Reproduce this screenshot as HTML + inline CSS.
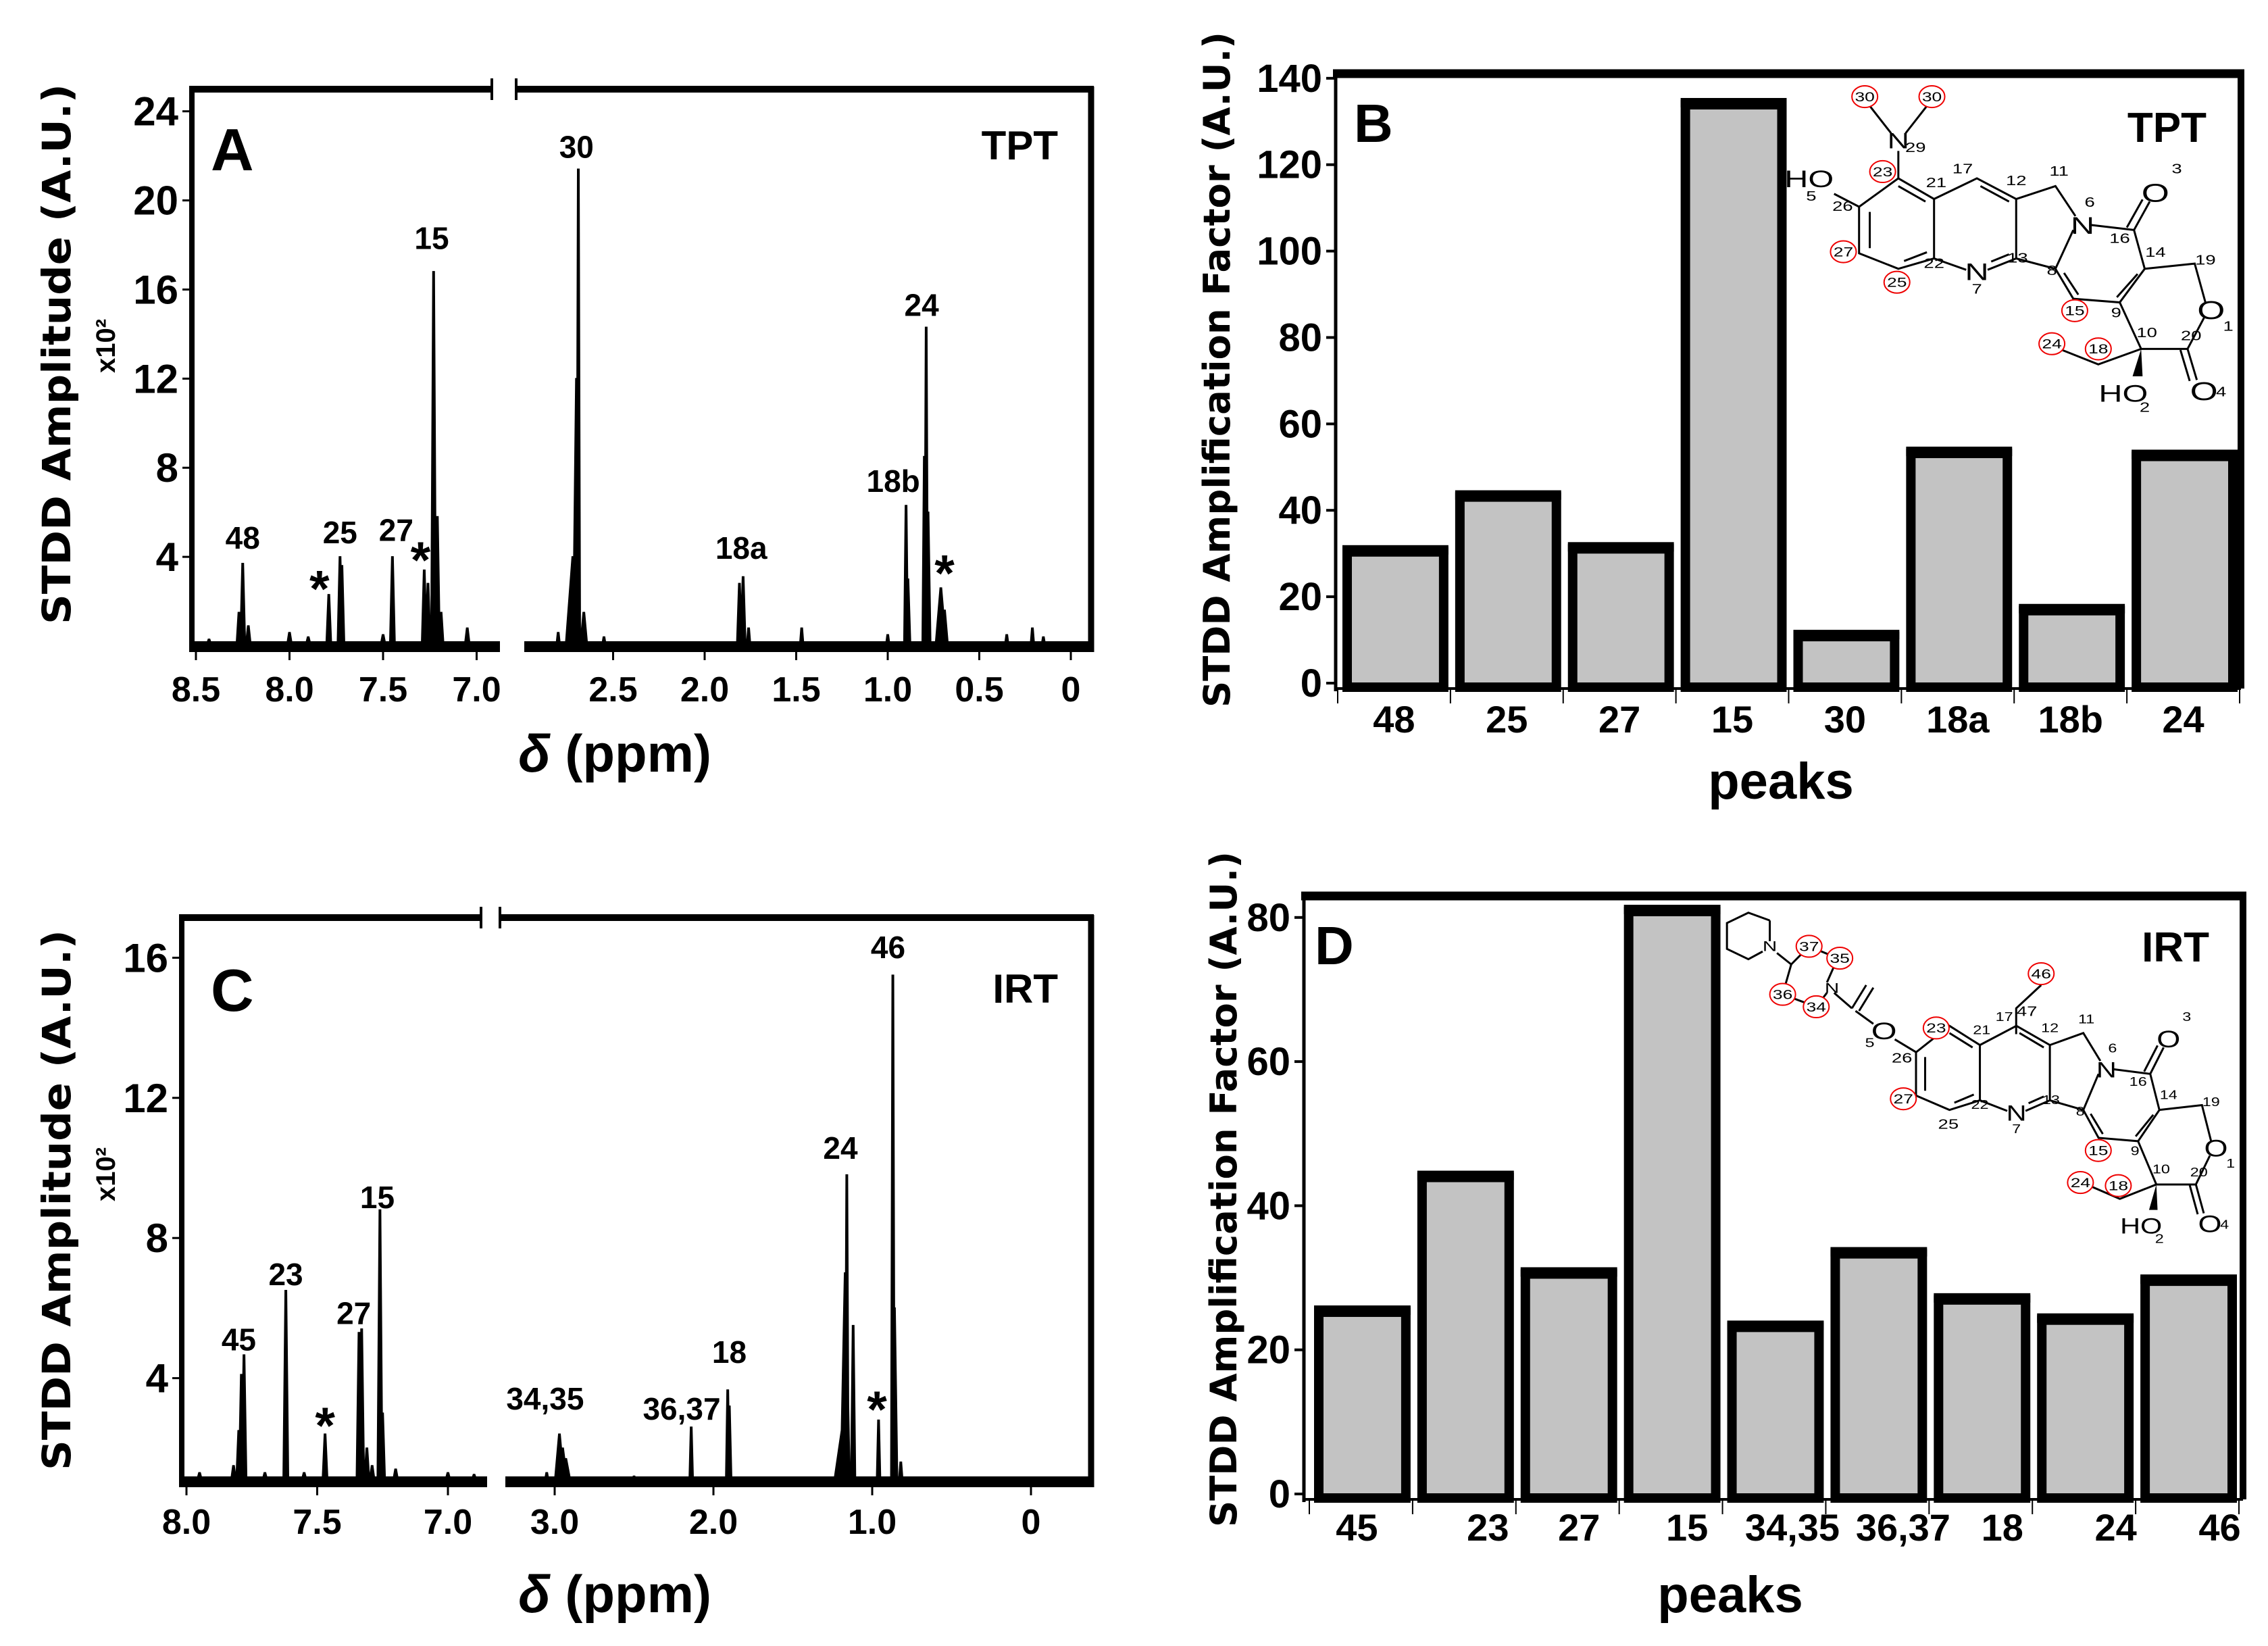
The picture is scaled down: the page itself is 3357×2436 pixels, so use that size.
<!DOCTYPE html>
<html><head><meta charset="utf-8"><style>
html,body{margin:0;padding:0;background:#fff;}
svg{display:block;}
.n{font-family:"Liberation Sans Narrow","Liberation Sans",sans-serif;font-weight:bold;fill:#000;}
.w{font-family:"DejaVu Sans","Liberation Sans",sans-serif;font-weight:bold;fill:#000;}
.m{font-family:"Liberation Sans",sans-serif;fill:#000;}
</style></head><body>
<svg id="fig" width="3357" height="2436" viewBox="0 0 3357 2436" xmlns="http://www.w3.org/2000/svg">
<rect width="3357" height="2436" fill="#fff"/>
<g>
 <text class="w" transform="translate(104,524) rotate(-90)" text-anchor="middle" font-size="58" textLength="800" lengthAdjust="spacingAndGlyphs">STDD Amplitude (A.U.)</text>
 <text class="n" transform="translate(170,512) rotate(-90)" text-anchor="middle" font-size="40">x10²</text>
 <text class="n" x="312" y="252" font-size="88">A</text>
 <text class="n" x="1566" y="236" text-anchor="end" font-size="60">TPT</text>
 <text class="n" x="910" y="1142" text-anchor="middle" font-size="78"><tspan font-style="italic">δ</tspan> (ppm)</text>
</g>
<g>
 <text class="w" transform="translate(1820,547) rotate(-90)" text-anchor="middle" font-size="54" textLength="1000" lengthAdjust="spacingAndGlyphs">STDD Amplification Factor (A.U.)</text>
 <text class="n" x="2004" y="210" font-size="80">B</text>
 <text class="n" x="3266" y="210" text-anchor="end" font-size="62">TPT</text>
 <text class="n" x="2636" y="1182" text-anchor="middle" font-size="76">peaks</text>
</g>
<g>
 <text class="w" transform="translate(104,1776) rotate(-90)" text-anchor="middle" font-size="58" textLength="800" lengthAdjust="spacingAndGlyphs">STDD Amplitude (A.U.)</text>
 <text class="n" transform="translate(170,1738) rotate(-90)" text-anchor="middle" font-size="40">x10²</text>
 <text class="n" x="312" y="1496" font-size="88">C</text>
 <text class="n" x="1566" y="1484" text-anchor="end" font-size="60">IRT</text>
 <text class="n" x="910" y="2386" text-anchor="middle" font-size="78"><tspan font-style="italic">δ</tspan> (ppm)</text>
</g>
<g>
 <text class="w" transform="translate(1830,1760) rotate(-90)" text-anchor="middle" font-size="54" textLength="1000" lengthAdjust="spacingAndGlyphs">STDD Amplification Factor (A.U.)</text>
 <text class="n" x="1946" y="1427" font-size="80">D</text>
 <text class="n" x="3270" y="1423" text-anchor="end" font-size="62">IRT</text>
 <text class="n" x="2561" y="2386" text-anchor="middle" font-size="76">peaks</text>
</g>
</svg>
<script>
// ---------- DATA ----------
const aLeftPpm = [8.43, 8.27, 8.25, 8.22, 8.00, 7.79, 7.73, 7.72, 7.45, 7.28, 7.26, 7.23, 7.21, 7.19, 7.05, 7.90, 7.50];
const aLeftAmp = [0.3, 1.5, 3.7, 0.9, 0.6, 2.3, 4.0, 3.6, 4.0, 3.4, 2.8, 16.8, 5.8, 1.5, 0.8, 0.4, 0.5];
const aRightPpm = [2.80, 2.72, 2.70, 2.69, 2.66, 2.55, 1.81, 1.79, 1.76, 1.47, 1.00, 0.90, 0.89, 0.80, 0.79, 0.78, 0.71, 0.69, 0.35, 0.21, 0.15];
const aRightAmp = [0.6, 4.0, 12.0, 21.4, 1.5, 0.4, 2.8, 3.1, 0.8, 0.8, 0.5, 6.3, 3.0, 8.5, 14.3, 6.0, 2.6, 1.6, 0.5, 0.8, 0.4];
const aRightWid = [0.01, 0.04, 0.02, 0.01, 0.02, 0.01, 0.015, 0.015, 0.01, 0.01, 0.01, 0.012, 0.015, 0.012, 0.01, 0.015, 0.03, 0.02, 0.01, 0.01, 0.01];
const aLabels = ["48", "25", "27", "15", "30", "18a", "18b", "24", "*", "*", "*"];
const aLabelPpm = [8.25, 7.73, 7.43, 7.24, 2.70, 1.80, 0.97, 0.815, 7.84, 7.30, 0.69];
const aLabelAmp = [4.85, 5.1, 5.2, 18.3, 22.4, 4.4, 7.4, 15.3, 2.8, 4.1, 3.5];
const aYTicks = [4, 8, 12, 16, 20, 24];
const aXTicksLeft = [8.5, 8.0, 7.5, 7.0];
const aXTicksRight = [2.5, 2.0, 1.5, 1.0, 0.5, 0];
const cLeftPpm = [7.95, 7.82, 7.80, 7.79, 7.78, 7.70, 7.62, 7.55, 7.47, 7.34, 7.33, 7.31, 7.29, 7.26, 7.25, 7.20, 7.00, 6.90];
const cLeftAmp = [1.3, 1.5, 2.5, 4.1, 4.66, 1.3, 6.5, 1.3, 2.4, 5.3, 5.4, 2.0, 1.5, 8.8, 3.0, 1.4, 1.3, 1.25];
const cRightPpm = [3.05, 2.97, 2.95, 2.93, 2.5, 2.14, 1.91, 1.90, 1.19, 1.17, 1.16, 1.12, 0.96, 0.87, 0.86, 0.82];
const cRightAmp = [1.3, 2.4, 2.0, 1.7, 1.2, 2.6, 3.66, 3.2, 2.5, 7.0, 9.8, 5.5, 2.8, 15.5, 6.0, 1.6];
const cRightWid = [0.01, 0.03, 0.03, 0.03, 0.01, 0.008, 0.012, 0.015, 0.05, 0.03, 0.012, 0.015, 0.01, 0.01, 0.02, 0.01];
const cLabels = ["45", "23", "27", "15", "34,35", "36,37", "18", "24", "46", "*", "*"];
const cLabelPpm = [7.80, 7.62, 7.36, 7.27, 3.06, 2.20, 1.90, 1.20, 0.90, 7.47, 0.97];
const cLabelAmp = [5.1, 6.96, 5.85, 9.16, 3.41, 3.12, 4.74, 10.57, 16.3, 2.8, 3.26];
const cYTicks = [4, 8, 12, 16];
const cXTicksLeft = [8.0, 7.5, 7.0];
const cXTicksRight = [3.0, 2.0, 1.0, 0];
const bCategories = ["48", "25", "27", "15", "30", "18a", "18b", "24"];
const bValues = [31, 43.7, 31.7, 134.5, 11.4, 53.8, 17.4, 53.1];
const bYTicks = [0, 20, 40, 60, 80, 100, 120, 140];
const dCategories = ["45", "23", "27", "15", "34,35", "36,37", "18", "24", "46"];
const dValues = [25.6, 44.3, 30.9, 81.2, 23.5, 33.7, 27.3, 24.5, 29.9];
const dYTicks = [0, 20, 40, 60, 80];
const dLabelShift = [-6, 35, 17, 24, 27, 38, 32, 47, 48];

// ---------- DRAW ----------
const NS = "http://www.w3.org/2000/svg";
const svg = document.getElementById('fig');
function mk(tag, attrs, parent) {
  const e = document.createElementNS(NS, tag);
  for (const k in attrs) e.setAttribute(k, attrs[k]);
  (parent || svg).appendChild(e);
  return e;
}
function line(x1, y1, x2, y2, w, name, p) {
  const e = mk('line', {x1: x1, y1: y1, x2: x2, y2: y2, stroke: '#000', 'stroke-width': w}, p);
  
  
  return e;
}

function spectrum(cfg) {
  const g = mk('g', {});
  
  
  const yS = v => cfg.y0 - v * cfg.ky;
  const xL = p => cfg.xl0 + (cfg.pl0 - p) * cfg.kl;
  const xR = p => cfg.xr0 - p * cfg.kr;
  const base = cfg.base;
  let d = '';
  cfg.lp.forEach((p, i) => {
    const x = xL(p), t = yS(cfg.la[i]), w = 4;
    d += `M${x - w},${base} L${x - 1},${t} L${x + 1},${t} L${x + w},${base} Z `;
  });
  cfg.rp.forEach((p, i) => {
    const x = xR(p), t = yS(cfg.ra[i]), w = Math.max(3, cfg.rw[i] * cfg.kr);
    d += `M${x - w},${base} L${x - 1},${t} L${x + 1},${t} L${x + w},${base} Z `;
  });
  const sp = mk('path', {d: d, fill: '#000', stroke: '#000', 'stroke-width': 2}, g);
  
  
  const b1 = mk('rect', {x: cfg.left, y: base - 6, width: cfg.breakL - cfg.left, height: 16, fill: '#000'}, g);
  
  
  const b2 = mk('rect', {x: cfg.breakR, y: base - 6, width: cfg.right - cfg.breakR + 4, height: 16, fill: '#000'}, g);
  
  
  line(cfg.left, cfg.top, cfg.left, base + 10, 8, cfg.name + '-y-axis-line', g);
  line(cfg.right, cfg.top - 4, cfg.right, base + 10, 9, cfg.name + '-right-frame', g);
  line(cfg.left - 4, cfg.top, cfg.topBreakL, cfg.top, 10, cfg.name + '-top-frame-left', g);
  line(cfg.topBreakR, cfg.top, cfg.right + 4, cfg.top, 10, cfg.name + '-top-frame-right', g);
  line(cfg.topBreakL, cfg.top - 16, cfg.topBreakL, cfg.top + 16, 4, cfg.name + '-break-mark-left', g);
  line(cfg.topBreakR, cfg.top - 16, cfg.topBreakR, cfg.top + 16, 4, cfg.name + '-break-mark-right', g);
  cfg.yt.forEach(v => {
    const y = yS(v);
    line(cfg.left - 14, y, cfg.left, y, 3, cfg.name + '-y-tick', g);
    const t = mk('text', {x: cfg.left - 20, y: y + 21, 'text-anchor': 'end', 'font-size': 60, class: 'n'}, g);
    
    
    t.textContent = v;
  });
  const xt = (x, v) => {
    line(x, base + 10, x, base + 22, 3, cfg.name + '-x-tick', g);
    const t = mk('text', {x: x, y: cfg.xlabY, 'text-anchor': 'middle', 'font-size': 52, class: 'n'}, g);
    
    
    t.textContent = (v === 0) ? '0' : v.toFixed(1);
  };
  cfg.xtl.forEach(v => xt(xL(v), v));
  cfg.xtr.forEach(v => xt(xR(v), v));
  cfg.lab.forEach((s, i) => {
    const p = cfg.labP[i];
    const x = p > 5 ? xL(p) : xR(p);
    const y = yS(cfg.labA[i]);
    const star = s === '*';
    const t = mk('text', {x: x, y: star ? y + 34 : y + 16, 'text-anchor': 'middle', 'font-size': star ? 76 : 46, class: 'n'}, g);
    
    
    t.textContent = s;
  });
}

spectrum({name: 'panel-a', y0: 956, ky: 32.97, xl0: 290, pl0: 8.5, kl: 277, xr0: 1585, kr: 271,
  base: 955, left: 284, right: 1615, top: 132, breakL: 740, breakR: 776, topBreakL: 728, topBreakR: 764,
  lp: aLeftPpm, la: aLeftAmp, rp: aRightPpm, ra: aRightAmp, rw: aRightWid,
  yt: aYTicks, xtl: aXTicksLeft, xtr: aXTicksRight, xlabY: 1038,
  lab: aLabels, labP: aLabelPpm, labA: aLabelAmp});
spectrum({name: 'panel-c', y0: 2247, ky: 51.85, xl0: 276, pl0: 8.0, kl: 387, xr0: 1526, kr: 235,
  base: 2191, left: 269, right: 1615, top: 1358, breakL: 721, breakR: 748, topBreakL: 712, topBreakR: 740,
  lp: cLeftPpm, la: cLeftAmp, rp: cRightPpm, ra: cRightAmp, rw: cRightWid,
  yt: cYTicks, xtl: cXTicksLeft, xtr: cXTicksRight, xlabY: 2270,
  lab: cLabels, labP: cLabelPpm, labA: cLabelAmp});

function bars(cfg) {
  const g = mk('g', {});
  
  
  const yS = v => cfg.y0 - v * cfg.ky;
  const n = cfg.cats.length;
  const cw = (cfg.x1 - cfg.x0) / n;
  line(cfg.left - 4, cfg.top, cfg.right + 5, cfg.top, 13, cfg.name + '-top-frame', g);
  line(cfg.right, cfg.top, cfg.right, cfg.y0 + 8, 10, cfg.name + '-right-frame', g);
  line(cfg.left, cfg.top, cfg.left, cfg.y0 + 12, 5, cfg.name + '-y-axis-line', g);
  line(cfg.left, cfg.y0 + 8, cfg.right, cfg.y0 + 8, 4, cfg.name + '-x-axis-line', g);
  for (let i = 0; i <= n; i++) line(cfg.x0 + i * cw, cfg.y0 + 8, cfg.x0 + i * cw, cfg.y0 + 30, 2, cfg.name + '-x-tick', g);
  cfg.yt.forEach(v => {
    const y = yS(v);
    line(cfg.left - 14, y, cfg.left, y, 4, cfg.name + '-y-tick', g);
    const t = mk('text', {x: cfg.left - 20, y: y + 20, 'text-anchor': 'end', 'font-size': 58, class: 'n'}, g);
    
    
    t.textContent = v;
  });
  cfg.vals.forEach((v, i) => {
    const x = cfg.x0 + i * cw + 14, w = cw - 24, y = yS(v), h = cfg.y0 + 6 - y;
    const r = mk('rect', {x: x, y: y + 4, width: w, height: h - 4, fill: '#c3c3c3', stroke: '#000', 'stroke-width': 14}, g);
    
    
    const c = mk('rect', {x: x - 7, y: y - 6, width: w + 14, height: 14, fill: '#000'}, g);
    
    
    const t = mk('text', {x: cfg.x0 + (i + 0.5) * cw + (cfg.shift ? cfg.shift[i] : 0), y: cfg.labY, 'text-anchor': 'middle', 'font-size': 56, class: 'n'}, g);
    
    
    t.textContent = cfg.cats[i];
  });
}
bars({name: 'panel-b', cats: bCategories, vals: bValues, yt: bYTicks, y0: 1011, ky: 6.394,
  x0: 1980, x1: 3315, left: 1977, right: 3317, top: 109, labY: 1084});
bars({name: 'panel-d', cats: dCategories, vals: dValues, yt: dYTicks, y0: 2211, ky: 10.665,
  x0: 1938, x1: 3314, left: 1930, right: 3320, top: 1326, labY: 2280, shift: dLabelShift});

// ---------- MOLECULES ----------
const ST = {fill: 'none', stroke: '#000', 'stroke-width': 3, 'vector-effect': 'non-scaling-stroke'};
function P(g, d, nm) { const e = mk('path', Object.assign({d: d}, ST), g);   }
function T(g, x, y, s, fs, nm) { const e = mk('text', {x: x, y: y, 'font-size': fs, 'text-anchor': 'middle', class: 'm'}, g);   e.textContent = s; }
function C(g, x, y, s) { const e = mk('ellipse', {cx: x, cy: y, rx: 18, ry: 21, fill: '#fff', stroke: '#e00', 'stroke-width': 2, 'vector-effect': 'non-scaling-stroke'}, g);   T(g, x, y + 9, s, 25, 'atom-number'); }
function core(g, nums) {
  P(g, 'M1050,345 L1100,385 L1100,500 L1050,520 L995,490 L995,400 Z M1010,410 L1010,480 M1050,360 L1088,390 M1058,505 L1090,488', 'ring-a');
  P(g, 'M1100,385 L1160,345 L1215,385 L1215,500 L1175,522 M1145,522 L1100,500 M1165,360 L1205,390 M1205,492 L1180,506', 'ring-b');
  P(g, 'M1215,385 L1270,360 L1298,418 M1295,445 L1270,520 L1215,500', 'ring-c');
  P(g, 'M1318,435 L1380,445 L1395,520 L1360,585 L1295,578 L1270,520 M1385,530 L1356,575 M1282,528 L1302,570', 'ring-d');
  P(g, 'M1395,520 L1465,510 L1480,585 M1478,615 L1455,675 L1390,675 L1360,585', 'ring-e');
  P(g, 'M1380,445 L1402,390 M1370,440 L1392,386 M1455,675 L1468,735 M1445,677 L1458,737 M1390,675 L1330,705 L1270,672', 'substituents');
  const w = mk('path', {d: 'M1390,675 L1378,728 L1392,728 Z', fill: '#000'}, g);
  
  
  T(g, 1160, 542, 'N', 46, 'atom-n7'); T(g, 1160, 568, '7', 26, 'atom-number');
  T(g, 1308, 452, 'N', 46, 'atom-n6'); T(g, 1318, 400, '6', 26, 'atom-number');
  T(g, 1410, 390, 'O', 50, 'atom-o3'); T(g, 1440, 335, '3', 26, 'atom-number');
  T(g, 1488, 617, 'O', 50, 'atom-o1'); T(g, 1512, 640, '1', 26, 'atom-number');
  T(g, 1365, 777, 'HO', 46, 'atom-ho2'); T(g, 1395, 797, '2', 26, 'atom-number');
  T(g, 1478, 774, 'O', 50, 'atom-o4'); T(g, 1502, 767, '4', 26, 'atom-number');
  nums.forEach(a => T(g, a[0], a[1], a[2], 26, 'atom-number'));
}
const commonNums = [[1103,362,'21'],[1140,335,'17'],[1215,358,'12'],[1275,340,'11'],[1360,470,'16'],[1410,497,'14'],[1480,512,'19'],[1100,518,'22'],[1217,508,'13'],[1265,532,'8'],[1355,614,'9'],[1398,652,'10'],[1460,658,'20']];

// TPT (panel B), zoom-space coords
const gB = mk('g', {transform: 'translate(1700,0) scale(1.057,0.765)'});


core(gB, commonNums);
P(gB, 'M1050,345 L1050,292 M1040,258 L1010,205 M1060,258 L1090,205 M995,400 L960,375', 'dimethylamino-hydroxy');
T(gB, 1050, 287, 'N', 42, 'atom-n29'); T(gB, 1074, 294, '29', 26, 'atom-number');
T(gB, 925, 362, 'HO', 46, 'atom-ho5'); T(gB, 928, 388, '5', 26, 'atom-number');
T(gB, 972, 408, '26', 26, 'atom-number');
C(gB, 1003, 187, '30'); C(gB, 1097, 187, '30'); C(gB, 1028, 332, '23'); C(gB, 973, 487, '27'); C(gB, 1048, 546, '25');
C(gB, 1297, 601, '15'); C(gB, 1265, 665, '24'); C(gB, 1330, 675, '18');

// IRT (panel D)
const gD = mk('g', {transform: 'translate(1700,1236) scale(1.057,0.765)'});


const gDc = mk('g', {transform: 'translate(227,48) scale(0.852,0.93)'}, gD);


core(gDc, commonNums);
P(gD, 'M1075,420 L1045,395 M1015,365 L990,340 M985,335 L1005,290 M995,340 L1015,295 M985,335 L960,305', 'carbamate');
P(gD, 'M950,285 L965,238 L925,215 L900,250 L888,308 L935,332 L950,305 M900,250 L880,228', 'piperidine-ring-2');
P(gD, 'M870,165 L870,205 M860,225 L840,240 L810,220 L810,170 L840,150 L870,165', 'piperidine-ring-1');
P(gD, 'M1215,385 L1215,335 L1250,290', 'ethyl-47-46');
T(gD, 1030, 395, 'O', 46, 'atom-o5'); T(gD, 1010, 410, '5', 24, 'atom-number');
T(gD, 870, 224, 'N', 28, 'atom-n'); T(gD, 957, 305, 'N', 28, 'atom-n');
T(gD, 1055, 440, '26', 26, 'atom-number'); T(gD, 1230, 350, '47', 26, 'atom-number'); T(gD, 1120, 568, '25', 26, 'atom-number');
C(gD, 925, 215, '37'); C(gD, 968, 238, '35'); C(gD, 888, 308, '36'); C(gD, 935, 332, '34');
C(gD, 1250, 268, '46'); C(gD, 1103, 373, '23'); C(gD, 1057, 510, '27');
C(gD, 1330, 610, '15'); C(gD, 1305, 672, '24'); C(gD, 1358, 678, '18');
</script>
</body></html>
